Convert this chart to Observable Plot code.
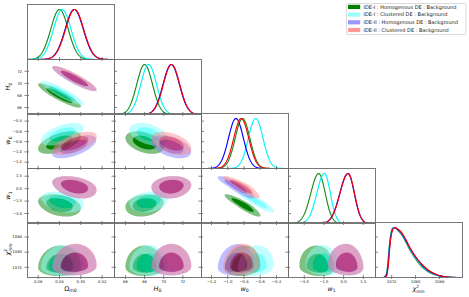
<!DOCTYPE html>
<html><head><meta charset="utf-8">
<script src="https://cdn.jsdelivr.net/npm/d3@7"></script>
<script src="https://cdn.jsdelivr.net/npm/@observablehq/plot@0.6"></script>
<style>
html,body{margin:0;padding:0;background:#fff;}
#chart{position:relative;width:469px;height:297px;overflow:hidden;font-family:"DejaVu Sans",sans-serif;}
.panel{position:absolute;}
.panel svg{overflow:visible;}
#overlay{position:absolute;left:0;top:0;pointer-events:none;}
</style></head><body><div id="chart"></div>
<script>
// ---------- data ----------
const seriesNames = ["IDE-I : Homogenous DE : Background","IDE-I : Clustered DE : Background","IDE-II : Homogenous DE : Background","IDE-II : Clustered DE : Background"];
const seriesColors = ["#008000","#00ffff","#0000ff","#ff0000"];
const lineColors = ["#1c8a1c","#00f4f4","#0000ff","#ff0000"];
const fillAlpha = [1,0.5,0.5,0.45];

const ranges = [[0.25,0.3316],[64.85,73.95],[-1.323,-0.252],[-4.2,2.43],[1066.6,1095.7]];
const tickValues = [[0.26,0.28,0.30,0.32],[66,68,70,72],[-1.2,-1.0,-0.8,-0.6,-0.4],[-3.0,-1.5,0.0,1.5],[1072,1080,1088]];
const tickDigits = [2,0,1,1,0];

// posterior summaries (mode, lower / upper width) per series
const omegaMode = [0.2800,0.2826,0.2938,0.2942];
const omegaSdLow = [0.0082,0.0082,0.0085,0.0085];
const omegaSdHigh = [0.0082,0.0082,0.0085,0.0085];
const h0Mode = [68.0,68.42,70.78,70.82];
const h0SdLow = [0.82,0.82,0.85,0.85];
const h0SdHigh = [0.82,0.82,0.85,0.85];
const w0Mode = [-0.818,-0.656,-0.899,-0.834];
const w0SdLow = [0.09,0.09,0.092,0.092];
const w0SdHigh = [0.09,0.09,0.092,0.092];
const w1Mode = [-1.9,-1.46,0.33,0.35];
const w1SdLow = [0.6,0.58,0.62,0.62];
const w1SdHigh = [0.5,0.45,0.48,0.48];
const chiMode = [1072.0,1072.2,1072.3,1072.5];
const chiSdLow = [1.9,1.9,1.9,1.9];
const chiSdHigh = [4.7,4.7,4.9,4.9];

// correlations per pair per series
const rhoOmH0 = [-0.9,-0.9,-0.9,-0.9];
const rhoOmW0 = [0.55,0.55,0.6,0.6];
const rhoOmW1 = [-0.3,-0.3,-0.35,-0.35];
const rhoOmChi = [0.05,0.05,0.05,0.05];
const rhoH0W0 = [-0.4,-0.4,-0.45,-0.45];
const rhoH0W1 = [0.2,0.2,0.1,0.1];
const rhoH0Chi = [0.0,0.0,0.0,0.0];
const rhoW0W1 = [-0.9,-0.9,-0.88,-0.88];
const rhoW0Chi = [0.1,0.1,0.1,0.1];
const rhoW1Chi = [-0.1,-0.1,-0.1,-0.1];

// marginal of chi2_min (peak normalised to 1)
const chiGrid = [1069.5,1070.3,1070.8,1071.3,1071.8,1072.4,1073.1,1074,1075,1076,1077,1078,1079,1080,1081,1082,1083,1084,1085,1086,1087,1088,1089,1090,1092,1094];
const chiDensGreen = [0.01,0.08,0.33,0.68,0.9,0.99,0.99,0.95,0.88,0.79,0.68,0.56,0.46,0.37,0.29,0.22,0.17,0.12,0.09,0.065,0.045,0.03,0.018,0.01,0.003,0];
const chiDensCyan = [0.005,0.06,0.3,0.65,0.88,0.98,1.0,0.95,0.9,0.8,0.7,0.58,0.48,0.39,0.31,0.24,0.18,0.14,0.1,0.07,0.05,0.033,0.02,0.012,0.004,0];
const chiDensBlue = [0,0.05,0.25,0.6,0.85,0.97,1.0,0.96,0.91,0.82,0.71,0.6,0.5,0.41,0.33,0.26,0.2,0.15,0.11,0.08,0.055,0.037,0.023,0.013,0.004,0];
const chiDensRed = [0,0.03,0.2,0.55,0.82,0.96,1.0,0.97,0.92,0.84,0.73,0.61,0.51,0.42,0.34,0.27,0.21,0.16,0.12,0.09,0.06,0.04,0.025,0.015,0.005,0];

// ---------- build ----------
const paramModes = [omegaMode,h0Mode,w0Mode,w1Mode,chiMode];
const paramSdLow = [omegaSdLow,h0SdLow,w0SdLow,w1SdLow,chiSdLow];
const paramSdHigh = [omegaSdHigh,h0SdHigh,w0SdHigh,w1SdHigh,chiSdHigh];
const rho = {"1,0":rhoOmH0,"2,0":rhoOmW0,"3,0":rhoOmW1,"4,0":rhoOmChi,"2,1":rhoH0W0,"3,1":rhoH0W1,"4,1":rhoH0Chi,"3,2":rhoW0W1,"4,2":rhoW0Chi,"4,3":rhoW1Chi};
const chiDens = [chiDensGreen,chiDensCyan,chiDensBlue,chiDensRed];

const chart = document.getElementById("chart");
const colLeft = [27,114,201,288,375];
const rowTop = [4,59,113,168,222];
const PW = 87, PH = 55;
const R68 = Math.sqrt(-2*Math.log(1-0.68)), R95 = Math.sqrt(-2*Math.log(1-0.95));
const FS = 3.8;

const fmt = k => d => (d < 0 ? "\u2212" : "") + Math.abs(d).toFixed(tickDigits[k]);
const blank = () => "";
function lighter(c){ const r = d3.rgb(c); return d3.rgb((r.r+255)/2,(r.g+255)/2,(r.b+255)/2).formatHex(); }

function ellipse(s, a, b, rh, r){
  const pts = [], n = 140, q = Math.sqrt(1 - rh*rh);
  for (let k = 0; k < n; k++){
    const t = 2*Math.PI*k/n;
    const u = r*Math.cos(t), v = r*(rh*Math.cos(t) + q*Math.sin(t));
    pts.push({
      x: paramModes[a][s] + u*(u < 0 ? paramSdLow[a][s] : paramSdHigh[a][s]),
      y: paramModes[b][s] + v*(v < 0 ? paramSdLow[b][s] : paramSdHigh[b][s])
    });
  }
  return pts;
}
function curve1D(s, k){
  if (k === 4) return chiGrid.map((x, n) => ({x, y: chiDens[s][n]}));
  const [a, b] = ranges[k], pts = [];
  for (let n = 0; n <= 240; n++){
    const x = a + (b - a)*n/240;
    const m = paramModes[k][s];
    const z = (x - m)/(x < m ? paramSdLow[k][s] : paramSdHigh[k][s]);
    pts.push({x, y: Math.exp(-0.5*z*z)});
  }
  return pts;
}

for (let i = 0; i < 5; i++){
  for (let j = 0; j <= i; j++){
    const marks = [];
    let yOpts;
    if (i === j){
      yOpts = {domain: [0, 1.1], axis: null, label: null};
      for (let s = 0; s < 4; s++){
        marks.push(Plot.line(curve1D(s, j), {x: "x", y: "y", stroke: lineColors[s], strokeWidth: 1.15, curve: j === 4 ? "monotone-x" : "linear", clip: true}));
      }
    } else {
      yOpts = {domain: ranges[i], label: null};
      const rr = rho[i + "," + j];
      for (let s = 0; s < 4; s++){
        const outer = ellipse(s, j, i, rr[s], R95);
        const inner = ellipse(s, j, i, rr[s], R68);
        if (s === 0){
          marks.push(Plot.line(outer, {x: "x", y: "y", fill: lighter(seriesColors[s]), stroke: "none", clip: true}));
          marks.push(Plot.line(inner, {x: "x", y: "y", fill: seriesColors[s], stroke: "none", clip: true}));
        } else {
          const ring = outer.concat([{x: NaN, y: NaN}], inner.slice().reverse());
          marks.push(Plot.line(ring, {x: "x", y: "y", fill: lighter(seriesColors[s]), fillOpacity: fillAlpha[s], stroke: "none", clip: true}));
          marks.push(Plot.line(inner, {x: "x", y: "y", fill: seriesColors[s], fillOpacity: fillAlpha[s], stroke: "none", clip: true}));
        }
      }
      // y ticks
      marks.push(Plot.axisY({anchor: "left", ticks: tickValues[i], tickSize: 2.5, tickPadding: 3, tickFormat: j === 0 ? fmt(i) : blank, label: null, fontSize: FS, stroke: "#333", strokeWidth: 0.6}));
      marks.push(Plot.tickY(tickValues[i], {y: d => d, insetRight: PW - 2, stroke: "#333", strokeWidth: 0.6}));
      if (j === i - 1) marks.push(Plot.axisY({anchor: "right", ticks: tickValues[i], tickSize: 2, tickFormat: blank, label: null, stroke: "#333", strokeWidth: 0.6}));
    }
    // x ticks
    marks.push(Plot.axisX({anchor: "bottom", ticks: tickValues[j], tickSize: 2, tickPadding: 0.6, tickFormat: i === 4 ? fmt(j) : blank, label: null, fontSize: FS, stroke: "#333", strokeWidth: 0.6}));
    marks.push(Plot.tickX(tickValues[j], {x: d => d, insetTop: PH - 2, stroke: "#333", strokeWidth: 0.6}));
    marks.push(Plot.frame({stroke: "#6a6a6a", strokeWidth: 0.9}));

    const svg = Plot.plot({
      width: PW, height: PH, margin: 0,
      x: {domain: ranges[j], label: null},
      y: yOpts,
      style: {background: "transparent", overflow: "visible", fontFamily: "DejaVu Sans", color: "#222"},
      marks
    });
    const div = document.createElement("div");
    div.className = "panel";
    div.style.left = colLeft[j] + "px";
    div.style.top = rowTop[i] + "px";
    div.appendChild(svg);
    chart.appendChild(div);
  }
}

// ---------- axis titles and legend ----------
const ov = d3.select(chart).append("svg").attr("id", "overlay").attr("width", 469).attr("height", 297)
  .attr("font-family", "DejaVu Sans").attr("fill", "#111");

function title(g, k){
  const t = g.append("text").attr("font-size", 6.5).attr("text-anchor", "middle");
  if (k === 0){ t.append("tspan").text("Ω"); t.append("tspan").attr("font-size", 4.6).attr("dy", 1.6).text("m0"); }
  if (k === 1){ t.append("tspan").attr("font-style", "italic").text("H"); t.append("tspan").attr("font-size", 4.6).attr("dy", 1.6).text("0"); }
  if (k === 2){ t.append("tspan").attr("font-style", "italic").text("w"); t.append("tspan").attr("font-size", 4.6).attr("dy", 1.6).text("0"); }
  if (k === 3){ t.append("tspan").attr("font-style", "italic").text("w"); t.append("tspan").attr("font-size", 4.6).attr("dy", 1.6).text("1"); }
  if (k === 4){
    t.append("tspan").attr("font-style", "italic").text("χ");
    t.append("tspan").attr("font-size", 4.4).attr("dy", -2.6).text("2");
    t.append("tspan").attr("font-size", 4.4).attr("font-style", "italic").attr("dx", -2.8).attr("dy", 4.6).text("min");
  }
  return t;
}
for (let k = 0; k < 5; k++){
  const g = ov.append("g").attr("transform", `translate(${colLeft[k] + PW/2},${290.5})`);
  title(g, k);
}
for (let k = 1; k < 5; k++){
  const g = ov.append("g").attr("transform", `translate(${10},${rowTop[k] + PH/2}) rotate(-90)`);
  title(g, k);
}

const lg = ov.append("g");
lg.append("rect").attr("x", 346.5).attr("y", 3.5).attr("width", 119.5).attr("height", 31).attr("rx", 1.5)
  .attr("fill", "#fff").attr("stroke", "#cccccc").attr("stroke-width", 0.7);
seriesNames.forEach((name, s) => {
  const cy = 6.9 + s*7.7;
  lg.append("rect").attr("x", 348).attr("y", cy - 2.1).attr("width", 12.2).attr("height", 4.2)
    .attr("fill", seriesColors[s]).attr("fill-opacity", s === 0 ? 1 : 0.4);
  lg.append("text").attr("x", 363.5).attr("y", cy).attr("dy", "0.35em").attr("font-size", 5).attr("fill", "#222").text(name);
});
</script></body></html>
